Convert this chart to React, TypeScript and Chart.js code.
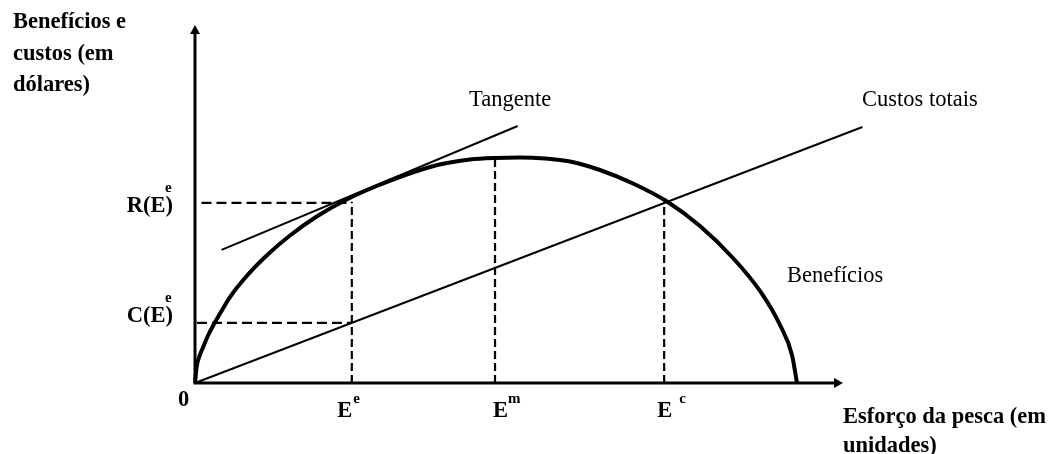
import React, { useEffect, useRef } from "react";
import { Chart, registerables } from "chart.js";

Chart.register(...registerables);

// Benefit curve (effort units vs dollars)
const benefitX = [0, 0.26, 0.66, 1.28, 2.05, 2.93, 3.86, 5.4, 7.98, 11.06, 14.66, 18.78, 23.41, 28.04, 32.67, 36.27, 38.89, 42.44, 46.3, 50.15, 54.01, 57.87, 62.5, 67.59, 72.84, 77.93, 83.02, 87.19, 90.28, 92.13, 92.9];
const benefitY = [0, 4.55, 7.35, 10.14, 13.41, 16.48, 19.41, 24.02, 29.89, 35.61, 41.2, 46.51, 51.26, 55.03, 58.24, 60.34, 61.45, 62.43, 62.85, 62.99, 62.71, 61.87, 59.5, 55.73, 50.7, 43.85, 34.92, 25.7, 16.2, 7.82, 0];

// Total costs line
const costX = [0, 103];
const costY = [0, 71.5];

// Tangent line
const tangentX = [4.1, 49.8];
const tangentY = [37.2, 71.8];

// Effort marks on the x axis
const markNames = ["e", "m", "c"];
const markX = [24.2, 46.3, 72.4];
const markTop = [50.6, 62.7, 50.5];

// Levels on the y axis
const levelNames = ["R", "C"];
const levelY = [50.3, 16.8];
const levelFromX = [1.0, 0.3];
const levelToX = [24.2, 24.2];

const FONT = "'Liberation Serif', 'Times New Roman', serif";

const pts = (xs: number[], ys: number[]) => xs.map((x, i) => ({ x, y: ys[i] }));

export default function App() {
  const ref = useRef<HTMLCanvasElement | null>(null);

  useEffect(() => {
    if (!ref.current) return;

    const dashed = (data: { x: number; y: number }[], dash: number[]) => ({
      data,
      showLine: true,
      borderColor: "#000",
      borderWidth: 2.2,
      borderDash: dash,
      pointRadius: 0,
      fill: false,
    });

    const datasets: any[] = [
      {
        label: "Benefícios",
        data: pts(benefitX, benefitY),
        showLine: true,
        borderColor: "#000",
        borderWidth: 4,
        pointRadius: 0,
        cubicInterpolationMode: "monotone",
        fill: false,
        clip: false,
      },
      {
        label: "Custos totais",
        data: pts(costX, costY),
        showLine: true,
        borderColor: "#000",
        borderWidth: 2,
        pointRadius: 0,
        fill: false,
        clip: false,
      },
      {
        label: "Tangente",
        data: pts(tangentX, tangentY),
        showLine: true,
        borderColor: "#000",
        borderWidth: 2,
        pointRadius: 0,
        fill: false,
        clip: false,
      },
    ];
    markX.forEach((x, i) => {
      datasets.push({ label: "E" + markNames[i], ...dashed([{ x, y: 0 }, { x, y: markTop[i] }], [8, 4]) });
    });
    levelY.forEach((y, i) => {
      datasets.push({ label: levelNames[i], ...dashed([{ x: levelFromX[i], y }, { x: levelToX[i], y }], [10, 5]) });
    });

    const overlay = {
      id: "overlay",
      afterDatasetsDraw(chart: any) {
        const ctx: CanvasRenderingContext2D = chart.ctx;
        const xs = chart.scales.x;
        const ys = chart.scales.y;
        const x0 = xs.getPixelForValue(0);
        const y0 = ys.getPixelForValue(0);
        const xEnd = xs.getPixelForValue(xs.max);
        const yEnd = ys.getPixelForValue(ys.max);
        ctx.save();
        ctx.strokeStyle = "#000";
        ctx.fillStyle = "#000";
        ctx.lineWidth = 3;
        ctx.lineCap = "butt";
        ctx.beginPath();
        ctx.moveTo(x0, y0 + 1.5);
        ctx.lineTo(x0, yEnd + 6);
        ctx.moveTo(x0 - 1.5, y0);
        ctx.lineTo(xEnd - 6, y0);
        ctx.stroke();
        // arrow heads
        ctx.beginPath();
        ctx.moveTo(x0, yEnd);
        ctx.lineTo(x0 - 5, yEnd + 9);
        ctx.lineTo(x0 + 5, yEnd + 9);
        ctx.closePath();
        ctx.fill();
        ctx.beginPath();
        ctx.moveTo(xEnd, y0);
        ctx.lineTo(xEnd - 9, y0 - 5);
        ctx.lineTo(xEnd - 9, y0 + 5);
        ctx.closePath();
        ctx.fill();

        ctx.textBaseline = "alphabetic";
        ctx.textAlign = "left";
        const text = (s: string, x: number, y: number, size: number, bold: boolean) => {
          ctx.font = `${bold ? "bold " : ""}${size}px ${FONT}`;
          ctx.fillText(s, x, y);
          return ctx.measureText(s).width;
        };
        const BIG = 22.5;

        // y axis title
        text("Benefícios e", 13, 28, BIG, true);
        text("custos (em", 13, 60, BIG, true);
        text("dólares)", 13, 91, BIG, true);

        // origin
        text("0", x0 - 17, y0 + 23, BIG, true);

        // effort labels
        const markOffsets = [-14.5, -2, -7];
        const supGap = [1, 0, 7];
        markX.forEach((v, i) => {
          const px = xs.getPixelForValue(v) + markOffsets[i];
          const w = text("E", px, y0 + 34, BIG, true);
          text(markNames[i], px + w + supGap[i], y0 + 20, 15, true);
        });

        // level labels
        levelY.forEach((v, i) => {
          const py = ys.getPixelForValue(v);
          const baseline = i === 0 ? py + 9 : py - 1;
          ctx.font = `bold ${BIG}px ${FONT}`;
          const label = levelNames[i] + "(E)";
          const w = ctx.measureText(label).width;
          const right = x0 - 22;
          text(label, right - w, baseline, BIG, true);
          text("e", right - 8, baseline - 20, 15, true);
        });

        // curve labels
        text("Tangente", 469, 106, BIG, false);
        text("Custos totais", 862, 106, BIG, false);
        text("Benefícios", 787, 282, BIG, false);

        // x axis title
        text("Esforço da pesca (em", xEnd, 423, BIG, true);
        text("unidades)", xEnd, 452, BIG, true);
        ctx.restore();
      },
    };

    const chart = new Chart(ref.current, {
      type: "scatter",
      data: { datasets },
      options: {
        animation: false,
        responsive: false,
        devicePixelRatio: 1,
        layout: { padding: { left: 195, right: 210, top: 25, bottom: 71 } },
        scales: {
          x: { type: "linear", min: 0, max: 100, display: false },
          y: { type: "linear", min: 0, max: 100, display: false },
        },
        plugins: { legend: { display: false }, tooltip: { enabled: false } },
        elements: { line: { tension: 0 } },
      },
      plugins: [overlay],
    });
    return () => chart.destroy();
  }, []);

  return (
    <div style={{ position: "absolute", left: 0, top: 0, width: 1053, height: 454, background: "#fff" }}>
      <canvas ref={ref} width={1053} height={454} style={{ display: "block" }} />
    </div>
  );
}
